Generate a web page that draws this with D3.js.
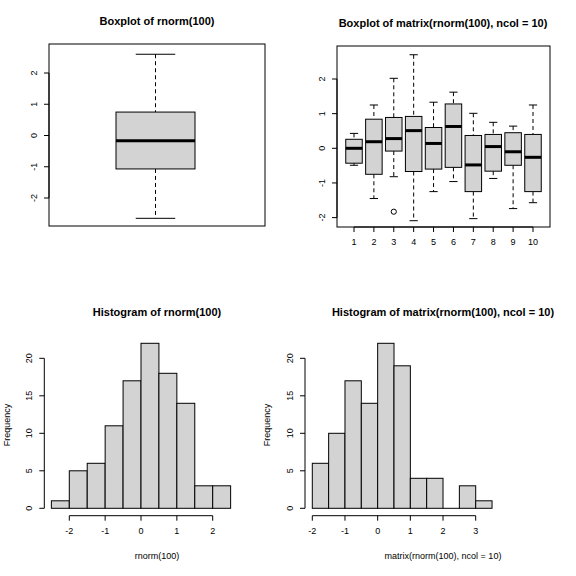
<!DOCTYPE html><html><head><script src="https://cdn.jsdelivr.net/npm/d3@7"></script>
<style>body{margin:0;background:#fff}text{font-family:"Liberation Sans",Arial,sans-serif}</style></head><body>
<script>
// single boxplot stats: low, q1, median, q3, high
const box1 = [-2.65, -1.07, -0.17, 0.75, 2.6];
const groups = ["1","2","3","4","5","6","7","8","9","10"];
const boxLow = [-0.49,-1.45,-0.82,-2.09,-1.25,-0.96,-2.03,-0.87,-1.74,-1.57];
const boxQ1  = [-0.43,-0.75,-0.08,-0.67,-0.60,-0.55,-1.25,-0.66,-0.49,-1.25];
const boxMed = [0.00,0.19,0.28,0.51,0.14,0.63,-0.48,0.05,-0.10,-0.26];
const boxQ3  = [0.26,0.84,0.89,0.92,0.60,1.28,0.37,0.40,0.45,0.40];
const boxHigh= [0.43,1.25,2.02,2.70,1.33,1.62,1.01,0.75,0.64,1.25];
const outliers = [{g:"3", v:-1.83}];
const hist1Breaks = [-2.5,-2,-1.5,-1,-0.5,0,0.5,1,1.5,2,2.5];
const hist1Counts = [1,5,6,11,17,22,18,14,3,3];
const hist2Breaks = [-2,-1.5,-1,-0.5,0,0.5,1,1.5,2,2.5,3,3.5];
const hist2Counts = [6,10,17,14,22,19,4,4,0,3,1];

const svg = d3.select("body").append("svg").attr("width",576).attr("height",576);
const GREY="#d3d3d3";
function title(x,y,t){svg.append("text").attr("x",x).attr("y",y).attr("text-anchor","middle").attr("font-size",11).attr("font-weight","bold").text(t);}
function yAxis(x,scale,ticks){
  const g=svg.append("g").attr("transform",`translate(${x},0)`);
  g.append("line").attr("y1",scale(ticks[0])).attr("y2",scale(ticks[ticks.length-1])).attr("stroke","#000");
  ticks.forEach(t=>{const y=scale(t);
    g.append("line").attr("x1",0).attr("x2",-5).attr("y1",y).attr("y2",y).attr("stroke","#000");
    g.append("text").attr("transform",`translate(-12,${y}) rotate(-90)`).attr("text-anchor","middle").attr("font-size",9).text(String(t).replace("-","-"));});
}
function xAxis(y,scale,ticks,labels){
  const g=svg.append("g").attr("transform",`translate(0,${y})`);
  g.append("line").attr("x1",scale(ticks[0])).attr("x2",scale(ticks[ticks.length-1])).attr("stroke","#000");
  ticks.forEach((t,i)=>{const x=scale(t);
    g.append("line").attr("x1",x).attr("x2",x).attr("y1",0).attr("y2",5).attr("stroke","#000");
    g.append("text").attr("x",x).attr("y",18).attr("text-anchor","middle").attr("font-size",9).text(labels?labels[i]:t);});
}
function drawBox(x,w,s,lo,q1,md,q3,hi){
  const g=svg.append("g");
  g.append("line").attr("x1",x).attr("x2",x).attr("y1",s(hi)).attr("y2",s(q3)).attr("stroke","#000").attr("stroke-dasharray","4,3");
  g.append("line").attr("x1",x).attr("x2",x).attr("y1",s(q1)).attr("y2",s(lo)).attr("stroke","#000").attr("stroke-dasharray","4,3");
  [hi,lo].forEach(v=>g.append("line").attr("x1",x-w/4).attr("x2",x+w/4).attr("y1",s(v)).attr("y2",s(v)).attr("stroke","#000"));
  g.append("rect").attr("x",x-w/2).attr("y",s(q3)).attr("width",w).attr("height",s(q1)-s(q3)).attr("fill",GREY).attr("stroke","#000");
  g.append("line").attr("x1",x-w/2).attr("x2",x+w/2).attr("y1",s(md)).attr("y2",s(md)).attr("stroke","#000").attr("stroke-width",3);
}
// Panel 1
{
  const y=d3.scaleLinear().domain([0,2]).range([135.5,73]);
  svg.append("rect").attr("x",49).attr("y",44).attr("width",216).attr("height",182).attr("fill","none").attr("stroke","#000");
  drawBox(155.5,79,y,...box1);
  yAxis(49,y,[-2,-1,0,1,2]);
  title(157,25,"Boxplot of rnorm(100)");
}
// Panel 2
{
  const y=d3.scaleLinear().domain([0,2]).range([148.3,79]);
  const x=d3.scalePoint().domain(groups).range([354,533]);
  svg.append("rect").attr("x",337).attr("y",46).attr("width",213).attr("height",181).attr("fill","none").attr("stroke","#000");
  groups.forEach((gname,i)=>drawBox(x(gname),16.5,y,boxLow[i],boxQ1[i],boxMed[i],boxQ3[i],boxHigh[i]));
  outliers.forEach(o=>svg.append("circle").attr("cx",x(o.g)).attr("cy",y(o.v)).attr("r",2.6).attr("fill","none").attr("stroke","#000"));
  yAxis(337,y,[-2,-1,0,1,2]);
  const g=svg.append("g").attr("transform","translate(0,227)");
  g.append("line").attr("x1",x("1")).attr("x2",x("10")).attr("stroke","#000");
  groups.forEach(gn=>{g.append("line").attr("x1",x(gn)).attr("x2",x(gn)).attr("y2",5).attr("stroke","#000");
    g.append("text").attr("x",x(gn)).attr("y",18).attr("text-anchor","middle").attr("font-size",9).text(gn);});
  title(443,27,"Boxplot of matrix(rnorm(100), ncol = 10)");
}
function hist(breaks,counts,x,y){
  counts.forEach((c,i)=>{ if(c>0) svg.append("rect").attr("x",x(breaks[i])).attr("y",y(c)).attr("width",x(breaks[i+1])-x(breaks[i])).attr("height",y(0)-y(c)).attr("fill",GREY).attr("stroke","#000");
    else svg.append("line").attr("x1",x(breaks[i])).attr("x2",x(breaks[i+1])).attr("y1",y(0)).attr("y2",y(0)).attr("stroke","#000");});
}
// Panel 3
{
  const x=d3.scaleLinear().domain([-2,2]).range([69.3,212.7]);
  const y=d3.scaleLinear().domain([0,20]).range([508.3,358.3]);
  hist(hist1Breaks,hist1Counts,x,y);
  yAxis(44.3,y,[0,5,10,15,20]);
  xAxis(515.7,x,[-2,-1,0,1,2]);
  title(157,316,"Histogram of rnorm(100)");
  svg.append("text").attr("x",157).attr("y",559).attr("text-anchor","middle").attr("font-size",9).text("rnorm(100)");
  svg.append("text").attr("transform","translate(10,425) rotate(-90)").attr("text-anchor","middle").attr("font-size",9).text("Frequency");
}
// Panel 4
{
  const x=d3.scaleLinear().domain([-2,3]).range([312.3,475.7]);
  const y=d3.scaleLinear().domain([0,20]).range([508.3,358.3]);
  hist(hist2Breaks,hist2Counts,x,y);
  yAxis(305,y,[0,5,10,15,20]);
  xAxis(515.7,x,[-2,-1,0,1,2,3]);
  title(443,316,"Histogram of matrix(rnorm(100), ncol = 10)");
  svg.append("text").attr("x",443).attr("y",559).attr("text-anchor","middle").attr("font-size",9).text("matrix(rnorm(100), ncol = 10)");
  svg.append("text").attr("transform","translate(270,425) rotate(-90)").attr("text-anchor","middle").attr("font-size",9).text("Frequency");
}
</script></body></html>
